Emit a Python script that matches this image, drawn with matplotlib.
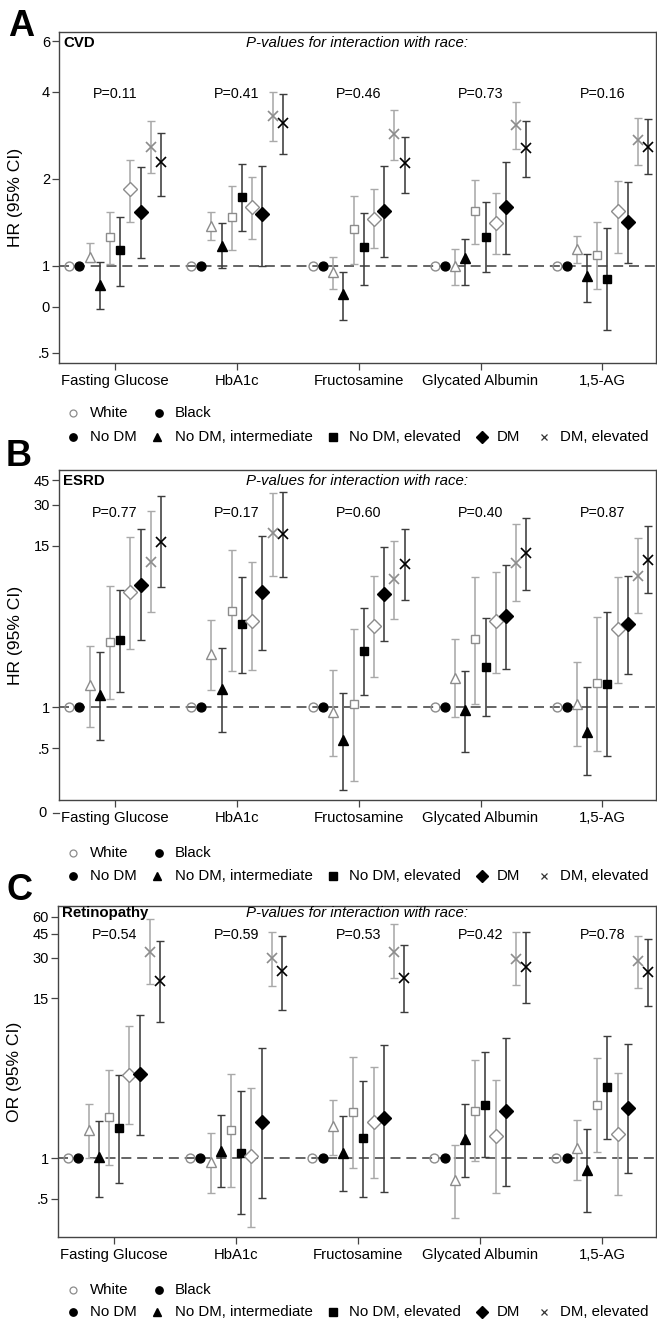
import numpy as np
import matplotlib.pyplot as plt
from matplotlib.lines import Line2D
from matplotlib.ticker import NullLocator, FixedLocator, FixedFormatter

plt.rcParams['font.family'] = ['Liberation Sans', 'DejaVu Sans']

nan = np.nan

# categories and groups
biomarkers = ['Fasting Glucose', 'HbA1c', 'Fructosamine', 'Glycated Albumin', '1,5-AG']
groups = ['No DM', 'No DM, intermediate', 'No DM, elevated', 'DM', 'DM, elevated']
races = ['White', 'Black']

# order inside each biomarker: (No DM W, No DM B, intermediate W, intermediate B, ...)
# ---- A: CVD, HR
cvd_p = ['P=0.11', 'P=0.41', 'P=0.46', 'P=0.73', 'P=0.16']
cvd_est = [[1, 1, 1.07, 0.86, 1.26, 1.13, 1.84, 1.53, 2.58, 2.28],
           [1, 1, 1.37, 1.17, 1.47, 1.73, 1.60, 1.51, 3.31, 3.11],
           [1, 1, 0.95, 0.80, 1.34, 1.16, 1.45, 1.55, 2.87, 2.26],
           [1, 1, 1.00, 1.06, 1.55, 1.26, 1.41, 1.60, 3.07, 2.56],
           [1, 1, 1.14, 0.92, 1.09, 0.90, 1.55, 1.42, 2.72, 2.58]]
cvd_lo = [[nan, nan, 1.03, 0.71, 1.01, 0.85, 1.42, 1.06, 2.09, 1.75],
          [nan, nan, 1.23, 0.98, 1.13, 1.32, 1.24, 1.00, 2.70, 2.43],
          [nan, nan, 0.83, 0.65, 1.01, 0.86, 1.15, 1.07, 2.33, 1.79],
          [nan, nan, 0.86, 0.86, 1.19, 0.95, 1.10, 1.10, 2.53, 2.03],
          [nan, nan, 1.02, 0.75, 0.83, 0.60, 1.11, 1.02, 2.24, 2.07]]
cvd_hi = [[nan, nan, 1.20, 1.03, 1.54, 1.47, 2.33, 2.19, 3.17, 2.89],
          [nan, nan, 1.53, 1.40, 1.89, 2.25, 2.03, 2.22, 4.00, 3.92],
          [nan, nan, 1.07, 0.95, 1.75, 1.52, 1.85, 2.22, 3.46, 2.80],
          [nan, nan, 1.14, 1.24, 1.98, 1.66, 1.78, 2.29, 3.69, 3.17],
          [nan, nan, 1.27, 1.10, 1.42, 1.35, 1.97, 1.95, 3.26, 3.22]]

# ---- B: ESRD, HR
esrd_p = ['P=0.77', 'P=0.17', 'P=0.60', 'P=0.40', 'P=0.87']
esrd_est = [[1, 1, 1.44, 1.23, 2.96, 3.06, 6.89, 7.79, 11.5, 16.1],
            [1, 1, 2.45, 1.35, 5.03, 4.03, 4.21, 6.89, 18.5, 18.3],
            [1, 1, 0.92, 0.58, 1.06, 2.57, 3.92, 6.66, 8.57, 11.0],
            [1, 1, 1.64, 0.95, 3.13, 1.96, 4.26, 4.58, 11.3, 13.2],
            [1, 1, 1.06, 0.66, 1.51, 1.48, 3.72, 4.05, 9.10, 11.8]]
esrd_lo = [[nan, nan, 0.71, 0.58, 1.14, 1.28, 2.65, 3.06, 4.92, 7.45],
           [nan, nan, 1.34, 0.66, 1.82, 1.77, 1.85, 2.62, 9.10, 8.96],
           [nan, nan, 0.44, 0.25, 0.29, 1.22, 1.65, 3.01, 4.40, 5.99],
           [nan, nan, 0.84, 0.47, 1.05, 0.86, 1.77, 1.90, 5.89, 7.16],
           [nan, nan, 0.52, 0.32, 0.48, 0.44, 1.51, 1.75, 4.84, 6.77]]
esrd_hi = [[nan, nan, 2.77, 2.52, 7.66, 7.16, 17.3, 19.8, 26.7, 34.7],
           [nan, nan, 4.33, 2.68, 14.0, 8.96, 11.4, 17.8, 36.7, 37.1],
           [nan, nan, 1.85, 1.26, 3.72, 5.27, 9.06, 14.6, 16.3, 19.9],
           [nan, nan, 3.13, 1.84, 8.86, 4.45, 9.74, 10.9, 21.6, 23.8],
           [nan, nan, 2.12, 1.41, 4.53, 4.92, 8.86, 9.06, 17.0, 21.0]]

# ---- C: Retinopathy, OR
ret_p = ['P=0.54', 'P=0.59', 'P=0.53', 'P=0.42', 'P=0.78']
ret_est = [[1, 1, 1.62, 1.01, 2.00, 1.66, 4.10, 4.15, 33.2, 20.0],
           [1, 1, 0.93, 1.13, 1.62, 1.09, 1.03, 1.84, 29.6, 23.7],
           [1, 1, 1.73, 1.09, 2.17, 1.40, 1.84, 1.99, 33.2, 21.1],
           [1, 1, 0.69, 1.38, 2.24, 2.47, 1.46, 2.21, 29.3, 25.5],
           [1, 1, 1.18, 0.82, 2.47, 3.33, 1.51, 2.33, 28.5, 23.4]]
ret_lo = [[nan, nan, 1.00, 0.52, 0.89, 0.65, 1.78, 1.47, 19.1, 10.0],
          [nan, nan, 0.55, 0.61, 0.61, 0.39, 0.31, 0.51, 18.4, 12.4],
          [nan, nan, 1.06, 0.57, 0.84, 0.52, 0.71, 0.56, 21.1, 11.9],
          [nan, nan, 0.36, 0.73, 0.95, 1.02, 0.55, 0.62, 18.9, 13.8],
          [nan, nan, 0.69, 0.40, 1.10, 1.38, 0.53, 0.77, 18.0, 13.2]]
ret_hi = [[nan, nan, 2.50, 1.89, 4.47, 4.10, 9.47, 11.4, 57.8, 40.0],
          [nan, nan, 1.53, 2.06, 4.18, 3.10, 3.31, 6.45, 46.1, 43.5],
          [nan, nan, 2.69, 2.03, 5.54, 3.71, 4.68, 6.83, 52.8, 37.2],
          [nan, nan, 1.25, 2.51, 5.30, 6.03, 3.73, 7.73, 46.1, 46.1],
          [nan, nan, 1.92, 1.64, 5.45, 7.95, 4.22, 6.90, 43.5, 40.9]]

# styles
shapes = ['o', '^', 's', 'D', 'x']
msize = {'o': 6.4, '^': 7, 's': 6.4, 'D': 6.8, 'x': 6.5}
white_col = '#8c8c8c'
white_bar = '#a9a9a9'
black_bar = '#3c3c3c'
step = 0.0836

W, H = 657, 1321
fig = plt.figure(figsize=(W / 100, H / 100), dpi=100)


def add_ax(l, t, r, b):
    return fig.add_axes([l / W, 1 - b / H, (r - l) / W, (b - t) / H])


def draw_panel(ax, est, lo, hi, plabels, title, ylabel, ylim, yt, ytl, p_y, t_y):
    est = np.array(est, float)
    lo = np.array(lo, float)
    hi = np.array(hi, float)
    xc = np.arange(len(biomarkers))
    ax.axhline(1, color='#4a4a4a', lw=1.2, ls=(0, (6, 3.5)), zorder=1)
    for k in range(10):
        shape = shapes[k // 2]
        white = (k % 2 == 0)
        x = xc + (k - 4.5) * step
        if not np.all(np.isnan(lo[:, k])):
            ax.errorbar(x, est[:, k], yerr=[est[:, k] - lo[:, k], hi[:, k] - est[:, k]],
                        fmt='none', ecolor=white_bar if white else black_bar,
                        elinewidth=1.15, capsize=2.7, capthick=1.0, zorder=2)
        if shape == 'x':
            ax.plot(x, est[:, k], ls='none', marker='x', ms=msize[shape],
                    mew=1.2, color=white_col if white else 'black', zorder=3)
        elif white:
            ax.plot(x, est[:, k], ls='none', marker=shape, ms=msize[shape],
                    mfc='none' if shape == 'o' else 'white', mec=white_col,
                    mew=1.0, zorder=3)
        else:
            ax.plot(x, est[:, k], ls='none', marker=shape, ms=msize[shape],
                    color='black', zorder=3)
    ax.set_yscale('log')
    ax.set_ylim(*ylim)
    ax.set_xlim(-0.46, 4.44)
    ax.yaxis.set_major_locator(FixedLocator(yt))
    ax.yaxis.set_major_formatter(FixedFormatter(ytl))
    ax.yaxis.set_minor_locator(NullLocator())
    ax.set_xticks(xc)
    ax.set_xticklabels(biomarkers, fontsize=10.7)
    ax.tick_params(axis='y', labelsize=10.5, length=5, width=0.9, color='#444', pad=1.5)
    ax.tick_params(axis='x', length=5, width=0.9, color='#444', pad=3)
    for s in ax.spines.values():
        s.set_color('#444')
        s.set_linewidth(1.0)
    ax.set_ylabel(ylabel, fontsize=12.6)
    ax.yaxis.set_label_coords(-0.060, 0.5)
    ax.text(0.007, t_y, title, transform=ax.transAxes, fontsize=10.8,
            fontweight='bold', va='center', ha='left')
    ax.text(0.5, t_y, 'P-values for interaction with race:', transform=ax.transAxes,
            fontsize=10.8, style='italic', va='center', ha='center')
    for i, p in enumerate(plabels):
        ax.text(i, p_y, p, transform=ax.get_xaxis_transform(), fontsize=10.3,
                va='center', ha='center')


def draw_legend(y1, y2):
    def mk(x, y, marker, ms, **kw):
        fig.add_artist(Line2D([x / W], [1 - y / H], marker=marker, ms=ms, ls='none',
                              transform=fig.transFigure, **kw))

    def tx(x, y, s):
        fig.text(x / W, 1 - y / H, s, fontsize=10.8, va='center', ha='left')

    mk(73, y1, 'o', 5, mfc='white', mec=white_col, mew=0.9)
    tx(90, y1, races[0])
    mk(159, y1, 'o', 5.3, color='black')
    tx(175, y1, races[1])
    xs_m = [73, 157, 333, 482, 544]
    xs_t = [90, 175, 349, 497, 560]
    sizes = [5.3, 5.5, 5.3, 6, 5]
    for j in range(5):
        if shapes[j] == 'x':
            mk(xs_m[j], y2, 'x', sizes[j], color='#333', mew=0.9)
        else:
            mk(xs_m[j], y2, shapes[j], sizes[j], color='black')
        tx(xs_t[j], y2, groups[j])


axA = add_ax(59, 32, 656, 363)
draw_panel(axA, cvd_est, cvd_lo, cvd_hi, cvd_p, 'CVD', 'HR (95% CI)', (0.46, 6.45),
           [0.5, 0.72, 1, 2, 4, 6], ['.5', '0', '1', '2', '4', '6'], 0.813, 0.967)
axB = add_ax(59, 470, 656, 800)
draw_panel(axB, esrd_est, esrd_lo, esrd_hi, esrd_p, 'ESRD', 'HR (95% CI)', (0.21, 53.6),
           [0.5, 1, 15, 30, 45], ['.5', '1', '15', '30', '45'], 0.870, 0.967)
axB.text(-0.020, -0.039, '0', transform=axB.transAxes, fontsize=10.5, ha='right', va='center')
axB.plot([-0.010, 0.0], [-0.039, -0.039], transform=axB.transAxes, color='#444',
         lw=0.9, clip_on=False)
axC = add_ax(58, 906, 656, 1237)
draw_panel(axC, ret_est, ret_lo, ret_hi, ret_p, 'Retinopathy', 'OR (95% CI)', (0.262, 72),
           [0.5, 1, 15, 30, 45, 60], ['.5', '1', '15', '30', '45', '60'], 0.912, 0.979)

draw_legend(413, 437)
draw_legend(853, 876)
draw_legend(1290, 1312)

for letter, yy, xx in [('A', 26, 8), ('B', 457, 6), ('C', 891, 6)]:
    fig.text(xx / W, 1 - yy / H, letter, fontsize=26, fontweight='bold', va='center', ha='left')

fig.savefig('out.png', dpi=100)
